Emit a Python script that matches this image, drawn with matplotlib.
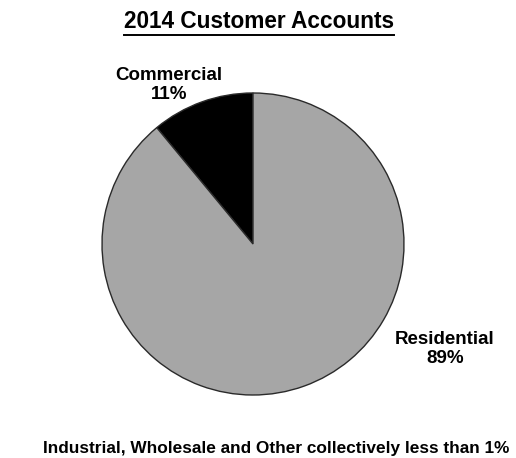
import matplotlib
matplotlib.use("Agg")
import matplotlib.pyplot as plt
from matplotlib.lines import Line2D

# --- data ---
categories = ["Commercial", "Residential"]
shares = [11, 89]
colors = ["#000000", "#a6a6a6"]
title = "2014 Customer Accounts"
footnote = "Industrial, Wholesale and Other collectively less than 1%"

plt.rcParams["font.family"] = ["Liberation Sans", "DejaVu Sans"]

W, H = 516, 458
fig = plt.figure(figsize=(W / 100, H / 100), dpi=100)
fig.patch.set_facecolor("white")

# pie axes: centre (253, 244) px, radius ~151 px
cx, cy, r = 253, 244, 151
ax = fig.add_axes([(cx - r) / W, (H - cy - r) / H, 2 * r / W, 2 * r / H])
ax.pie(shares, colors=colors, startangle=90, counterclock=True,
       wedgeprops={"edgecolor": "#2a2a2a", "linewidth": 1.0})
ax.set_xlim(-1, 1)
ax.set_ylim(-1, 1)
ax.set_aspect("equal")
ax.axis("off")

# title with underline
t = fig.text(259 / W, 1 - 21 / H, title, ha="center", va="center",
             fontsize=16.3, fontweight="bold")
fig.canvas.draw()
bb = t.get_window_extent()
uy = bb.y0 - 2
fig.add_artist(Line2D([bb.x0 / W, bb.x1 / W], [uy / H, uy / H],
                      color="black", lw=1.4))

# slice labels
label_pos = {"Commercial": (169, 85), "Residential": (445, 349)}
for cat, val in zip(categories, shares):
    x, y = label_pos[cat]
    fig.text(x / W, 1 - y / H, f"{cat}\n{val}%", ha="center", va="center",
             fontsize=13.5, fontweight="bold", linespacing=1.2)

fig.text(276 / W, 1 - 448 / H, footnote, ha="center", va="center",
         fontsize=12.4, fontweight="bold")

fig.savefig("out.png", dpi=100)
